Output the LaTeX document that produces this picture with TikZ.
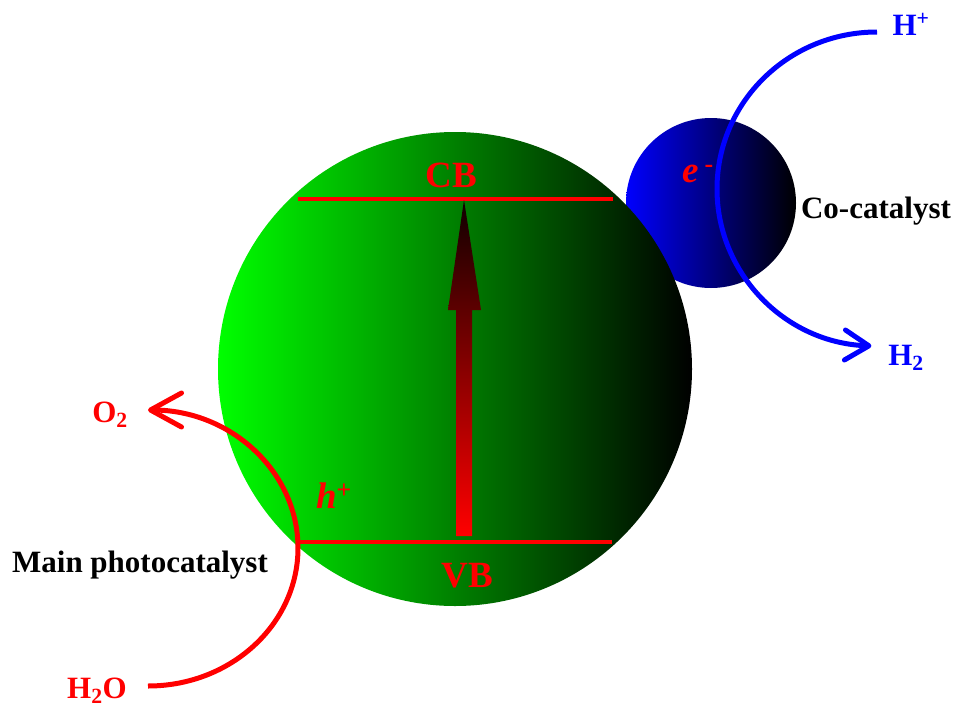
\documentclass[tikz,border=0pt]{standalone}
\usepackage{fontspec}
\setmainfont{Liberation Serif}
\usepackage{tikz}
\usetikzlibrary{arrows.meta}
\definecolor{leafgreen}{RGB}{0,255,0}
\definecolor{deepred}{RGB}{15,0,0}

\begin{document}
\begin{tikzpicture}[x=1pt,y=1pt,
  lbl/.style={font=\fontsize{31}{36}\selectfont\bfseries,anchor=base},
  band/.style={font=\fontsize{37}{42}\selectfont\bfseries,text=red,anchor=base},
  level/.style={draw=red,line width=4.5pt},
  flow/.style={line width=5pt}]
  \useasboundingbox (0,0) rectangle (956,-707);
  % the two particles
  \shade[left color=blue,right color=black] (711,-203) circle (85);
  \shade[left color=leafgreen,right color=black] (455,-369) circle (237);
  % band edges and excitation
  \draw[level] (298,-199) -- (613,-199);
  \draw[level] (298,-542) -- (612,-542);
  \shade[bottom color=red,top color=deepred] (456,-536) -- (456,-310) -- (448,-310) -- (464,-200)
    -- (481,-310) -- (472,-310) -- (472,-536) -- cycle;
  \node[band] (cb) at (451,-187) {CB};
  \node[band] (vb) at (467,-587) {VB};
  \node[band] (hole) at (334,-508) {\textit{h}\textsuperscript{+}};
  \node[band] (elec) at (698,-182) {\textit{e}\,\textsuperscript{-}};
  \node[lbl] (cocat) at (876,-218) {Co-catalyst};
  \node[lbl] (mainpc) at (140,-572) {Main photocatalyst};
  % reactions
  \node[lbl,text=red] (otwo) at (110,-422) {O\textsubscript{2}};
  \node[lbl,text=red] (water) at (97,-698) {H\textsubscript{2}O};
  \node[lbl,text=blue] (hion) at (911,-35) {H\textsuperscript{+}};
  \node[lbl,text=blue] (htwo) at (906,-365) {H\textsubscript{2}};
  \coordinate (hin) at (877,-32);
  \coordinate (wout) at (148,-686);
  \draw[flow,blue,-{Straight Barb[length=24pt,width=30pt,round]}] (hin)
    arc[start angle=90,end angle=268,x radius=160,y radius=157];
  \draw[flow,red,-{Straight Barb[length=31pt,width=34pt,round]}] (wout)
    arc[start angle=270,end angle=450,x radius=150,y radius=138];
\end{tikzpicture}
\end{document}
